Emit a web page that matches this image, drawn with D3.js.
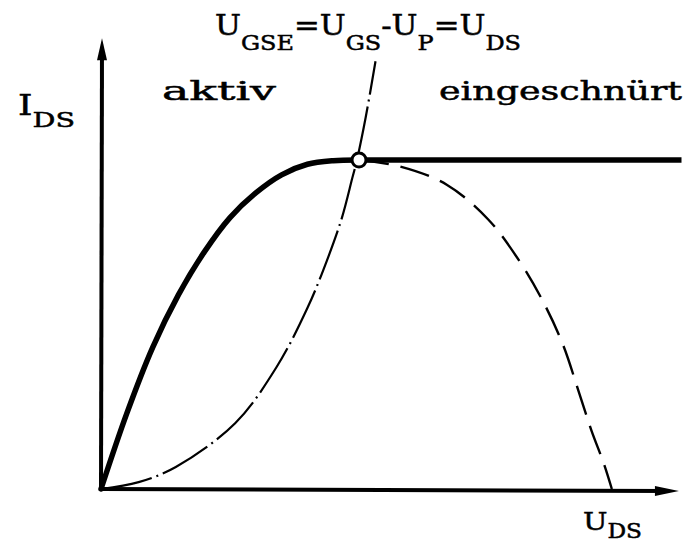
<!DOCTYPE html>
<html>
<head>
<meta charset="utf-8">
<script src="https://cdn.jsdelivr.net/npm/d3@7"></script>
<style>
  body { margin: 0; background: #fff; }
  text { font-family: "DejaVu Serif", "Liberation Serif", serif; fill: #000; stroke: #000; stroke-width: 0.5; }
</style>
</head>
<body>
<div id="content"></div>
<script>
// U_DS / I_DS readings (arbitrary units, knee at U_DS = 5, I_DS = 10)
const uActive = [0, 0.5, 1.0, 1.5, 2.0, 2.5, 3.0, 3.5, 4.0, 4.5, 5];
const iActive = [0, 2.3, 4.3, 5.9, 7.2, 8.25, 9.0, 9.55, 9.87, 9.98, 10];

const uSat = [5, 11.25];
const iSat = [10, 10];

const uFall = [5, 5.8, 6.7, 7.5, 8.1, 8.55, 8.95, 9.25, 9.5, 9.75, 9.9];
const iFall = [10, 9.8, 9.25, 8.2, 6.95, 5.75, 4.4, 3.0, 1.8, 0.75, 0];

const uBound = [0, 0.73, 1.45, 2.6, 3.4, 4.0, 4.38, 4.67, 4.87, 4.96, 5.13, 5.32];
const iBound = [0, 0.21, 0.67, 2.0, 3.7, 5.5, 6.95, 8.25, 9.45, 10, 11.3, 13.0];

const knee = [5, 10];

const formula = [['U', 0], ['GSE', 1], ['=', 0], ['U', 0], ['GS', 1], ['-', 0], ['U', 0], ['P', 1], ['=', 0], ['U', 0], ['DS', 1]];
const yLabel = [['I', 0], ['DS', 1]];
const xLabel = [['U', 0], ['DS', 1]];
const regionLeft = 'aktiv';
const regionRight = 'eingeschnürt';

var width = 685;
var height = 551;

const x = d3.scaleLinear().domain([0, 10]).range([101, 617]);
const y = d3.scaleLinear().domain([0, 10]).range([489, 160]);
const xEnd = 11.2, yEnd = 13.7;

const svg = d3.select('#content')
              .append('svg')
              .attr('width', width)
              .attr('height', height);

const zip = (us, is) => us.map((u, i) => [u, is[i]]);
const line = d3.line()
               .x(d => x(d[0]))
               .y(d => y(d[1]))
               .curve(d3.curveCatmullRom.alpha(0.5));

// axes
svg.append('line')
   .attr('x1', x(0)).attr('y1', y(0))
   .attr('x2', x(xEnd) - 10).attr('y2', y(0) + 2)
   .attr('stroke', '#000').attr('stroke-width', 4);
svg.append('line')
   .attr('x1', x(0)).attr('y1', y(0) + 2)
   .attr('x2', x(0) + 1).attr('y2', y(yEnd) + 10)
   .attr('stroke', '#000').attr('stroke-width', 4);

svg.append('path')
   .attr('d', d3.line()([[x(xEnd), y(0) + 2], [x(xEnd) - 24, y(0) - 3], [x(xEnd) - 24, y(0) + 7]]))
   .attr('fill', '#000');
svg.append('path')
   .attr('d', d3.line()([[x(0) + 1, y(yEnd)], [x(0) - 4, y(yEnd) + 22], [x(0) + 6, y(yEnd) + 22]]))
   .attr('fill', '#000');

// boundary U_GSE = U_DS (dash-dot)
svg.append('path')
   .attr('d', line(zip(uBound, iBound)))
   .attr('fill', 'none')
   .attr('stroke', '#000')
   .attr('stroke-width', 2.2)
   .attr('stroke-dasharray', '52,5,2,5');

// continuation of parabola (dashed)
svg.append('path')
   .attr('d', line(zip(uFall, iFall)))
   .attr('fill', 'none')
   .attr('stroke', '#000')
   .attr('stroke-width', 2.4)
   .attr('stroke-dasharray', '30,12');

// real characteristic (solid)
svg.append('path')
   .attr('d', line(zip(uActive, iActive)))
   .attr('fill', 'none')
   .attr('stroke', '#000')
   .attr('stroke-width', 5.5)
   .attr('stroke-linecap', 'round');
svg.append('path')
   .attr('d', d3.line().x(d => x(d[0])).y(d => y(d[1]))(zip(uSat, iSat)))
   .attr('fill', 'none')
   .attr('stroke', '#000')
   .attr('stroke-width', 5.5);

svg.append('circle')
   .attr('cx', x(knee[0])).attr('cy', y(knee[1]))
   .attr('r', 7)
   .attr('fill', '#fff')
   .attr('stroke', '#000')
   .attr('stroke-width', 3);

// labels
function label(parts, x0, base, sub, size, subSize, len) {
    const t = svg.append('text')
                 .attr('x', x0)
                 .attr('y', base)
                 .attr('textLength', len)
                 .attr('lengthAdjust', 'spacingAndGlyphs');
    parts.forEach(p => {
        t.append('tspan')
         .attr('y', p[1] ? sub : base)
         .attr('font-size', p[1] ? subSize : size)
         .text(p[0]);
    });
}

label(formula, 215, 35, 50, 27, 21, 306);
label(yLabel, 18, 115, 127, 27, 21, 57);
label(xLabel, 583, 530, 538, 25, 20, 59);

svg.append('text')
   .attr('x', 162).attr('y', 100)
   .attr('font-size', 26)
   .attr('textLength', 114)
   .attr('lengthAdjust', 'spacingAndGlyphs')
   .text(regionLeft);

svg.append('text')
   .attr('x', 439).attr('y', 100)
   .attr('font-size', 26)
   .attr('textLength', 243)
   .attr('lengthAdjust', 'spacingAndGlyphs')
   .text(regionRight);
</script>
</body>
</html>
